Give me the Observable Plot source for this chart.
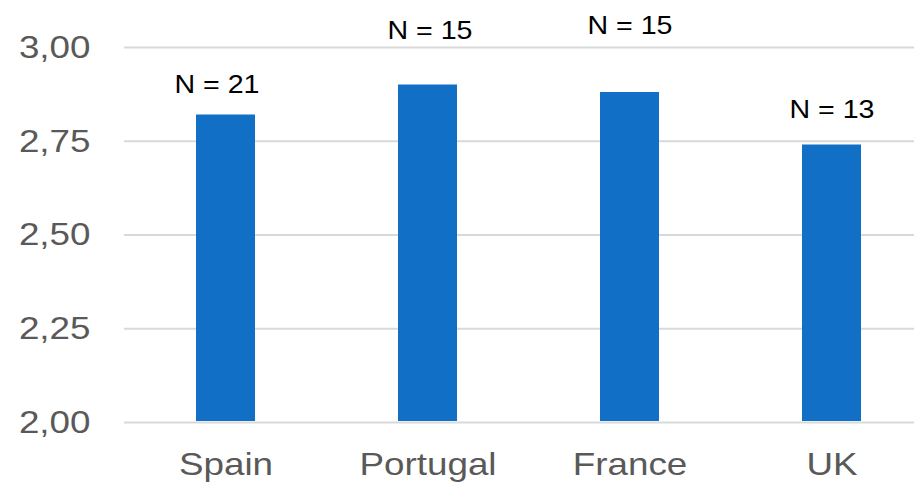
<!DOCTYPE html>
<html>
<head>
<meta charset="utf-8">
<script src="https://cdn.jsdelivr.net/npm/d3@7"></script>
<script src="https://cdn.jsdelivr.net/npm/@observablehq/plot@0.6"></script>
<style>
  html, body { margin: 0; padding: 0; background: #fff; }
  #chart { width: 914px; height: 486px; overflow: hidden; }
</style>
</head>
<body>
<div id="chart"></div>
<script>
// Mean score by country, with sample size per country
const countries = ["Spain", "Portugal", "France", "UK"];
const means = [2.82, 2.90, 2.88, 2.74];
const sampleSizes = [21, 15, 15, 13];
const yTicks = [2.00, 2.25, 2.50, 2.75, 3.00];

const rows = countries.map((country, i) => ({country, mean: means[i], n: sampleSizes[i]}));

// placement of each "N = …" label relative to the top centre of its bar, in pixels
const labelLift = [30, 54, 67, 35];
const labelShift = [-9, 2, 0, 0];

const fmt = d => d.toFixed(2).replace(".", ",");

const chart = Plot.plot({
  width: 914,
  height: 486,
  marginTop: 47,
  marginBottom: 64,
  marginLeft: 124,
  marginRight: -18,
  style: {fontFamily: "'Liberation Sans', Arial, sans-serif", fontSize: "32px", color: "#595959", background: "#fff", overflow: "hidden"},
  x: {domain: countries, paddingInner: 0.71, paddingOuter: 0.355},
  y: {domain: [2, 3]},
  marks: [
    Plot.ruleY(yTicks, {stroke: "#d9d9d9", strokeWidth: 2}),
    Plot.barY(rows, {x: "country", y1: 2, y2: "mean", fill: "#1170c6", insetBottom: 1}),
    ...rows.map((r, i) => Plot.text([r], {
      x: "country", y: "mean", text: d => `N = ${d.n}`,
      dx: labelShift[i], dy: -labelLift[i], fill: "#000", fontSize: 26,
      className: "nlabel"
    })),
    Plot.axisY({ticks: yTicks, tickSize: 0, tickPadding: 34, tickFormat: fmt, fontSize: 32, label: null}),
    Plot.axisX({tickSize: 0, tickPadding: 30, fontSize: 32, label: null})
  ]
});

// widen the glyphs slightly about each text's anchor point
chart.querySelectorAll("text").forEach(t => {
  const isLabel = t.closest(".nlabel") !== null;
  const tr = t.getAttribute("transform") || "";
  t.setAttribute("transform", `${tr} scale(${isLabel ? 1.1 : 1.15},1)`.trim());
});

document.getElementById("chart").appendChild(chart);
</script>
</body>
</html>
